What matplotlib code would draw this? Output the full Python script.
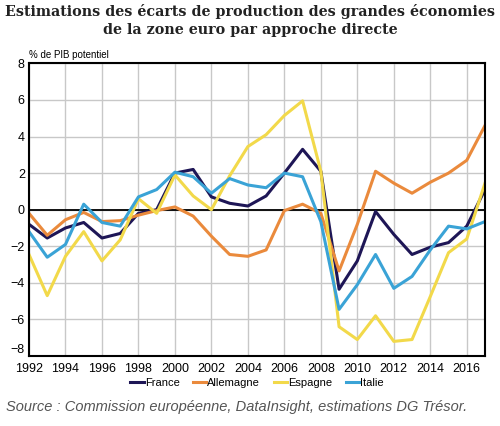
import matplotlib.pyplot as plt

annees = list(range(1992, 2018))

france = [-0.8, -1.55, -1.0, -0.7, -1.55, -1.3, -0.2, 0.0, 2.0, 2.2, 0.7, 0.35, 0.2,
          0.75, 2.0, 3.3, 2.1, -4.35, -2.8, -0.1, -1.35, -2.45, -2.05, -1.8, -0.9, 1.1]
allemagne = [-0.2, -1.4, -0.55, -0.15, -0.65, -0.6, -0.3, -0.05, 0.15, -0.35, -1.45, -2.45, -2.55,
             -2.2, -0.05, 0.3, -0.2, -3.35, -0.8, 2.1, 1.45, 0.9, 1.5, 2.0, 2.7, 4.6]
espagne = [-2.45, -4.7, -2.55, -1.2, -2.8, -1.65, 0.6, -0.2, 1.9, 0.75, 0.0, 1.85, 3.45,
           4.1, 5.15, 5.95, 2.1, -6.4, -7.1, -5.8, -7.2, -7.1, -4.75, -2.35, -1.6, 1.45]
italie = [-1.2, -2.6, -1.9, 0.3, -0.7, -0.9, 0.7, 1.1, 2.05, 1.8, 0.9, 1.7, 1.35,
          1.2, 2.0, 1.8, -0.65, -5.45, -4.1, -2.45, -4.3, -3.65, -2.2, -0.9, -1.05, -0.65]

series = [('France', france, '#1e1656'),
          ('Allemagne', allemagne, '#ea8a3c'),
          ('Espagne', espagne, '#f2d94a'),
          ('Italie', italie, '#3aa3d6')]

plt.rcParams['font.family'] = ['Liberation Sans', 'DejaVu Sans']

fig = plt.figure(figsize=(5, 4.26), dpi=100)
ax = fig.add_axes([0.058, 0.1643, 0.912, 0.687])

for nom, val, couleur in series:
    ax.plot(annees, val, color=couleur, lw=2.2, label=nom)

ax.axhline(0, color='black', lw=1.3, zorder=1)
ax.set_xlim(1992, 2017)
ax.set_ylim(-8, 8)
ax.set_xticks(range(1992, 2017, 2))
ax.set_yticks(range(-8, 9, 2))
ax.grid(True, color='#c8c8c8', lw=1)
ax.set_axisbelow(True)
ax.tick_params(length=0, labelsize=9, pad=3)
ax.tick_params(axis='x', pad=5)
for s in ax.spines.values():
    s.set_linewidth(1.5)
    s.set_color('black')
# le -8 est un peu remonte dans l'original
ax.get_yticklabels()[0].set_va('bottom')

ax.text(0.0, 1.01, '% de PIB potentiel', transform=ax.transAxes, fontsize=7, ha='left', va='bottom')

fig.text(0.5, 0.99, 'Estimations des écarts de production des grandes économies\nde la zone euro par approche directe',
         ha='center', va='top', fontsize=10.3, fontweight='bold', family='DejaVu Serif', linespacing=1.35,
         color='#222222')

ax.legend(loc='upper center', bbox_to_anchor=(0.5, -0.06), ncol=4, frameon=False, fontsize=8,
          handlelength=1.2, handletextpad=0.1, columnspacing=1.2, borderaxespad=0)

fig.text(0.012, 0.045, 'Source : Commission européenne, DataInsight, estimations DG Trésor.',
         fontsize=10.5, style='italic', color='#555555', ha='left', va='center')

fig.savefig('out.png', dpi=100)
